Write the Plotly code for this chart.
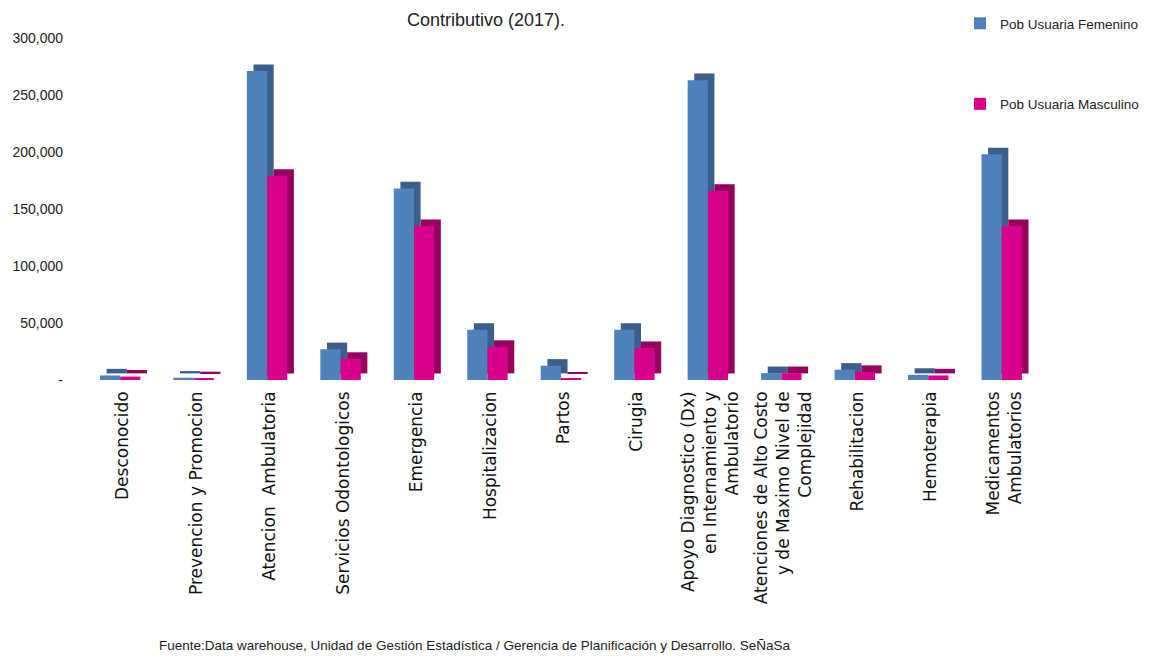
import plotly.graph_objects as go

categories = [
    "Desconocido",
    "Prevencion y Promocion",
    "Atencion  Ambulatoria",
    "Servicios Odontologicos",
    "Emergencia",
    "Hospitalizacion",
    "Partos",
    "Cirugia",
    "Apoyo Diagnostico (Dx)<br>en Internamiento y<br>Ambulatorio",
    "Atenciones de Alto Costo<br>y de Maximo Nivel de<br>Complejidad",
    "Rehabilitacion",
    "Hemoterapia",
    "Medicamentos<br>Ambulatorios",
]
femenino = [4000, 2000, 271000, 27000, 168000, 44000, 12500, 44000, 263000, 6000, 9000, 4500, 198000]
masculino = [3000, 1500, 179000, 18500, 135000, 29000, 1000, 28000, 166000, 6000, 7000, 4000, 135000]

y_ticks = [0, 50000, 100000, 150000, 200000, 250000, 300000]
y_ticktext = ["-", "50,000", "100,000", "150,000", "200,000", "250,000", "300,000"]

BLUE, BLUE_D = "#4F81BD", "#3A5F8C"
MAG, MAG_D = "#D9008C", "#96005F"
W = 0.275
DX = 0.09
DY = 5800
SANS = "Liberation Sans, Arial, sans-serif"

L, R, T, B = 78, 120, 30, 284
PW = 1153 - L - R
PH = 656 - T - B

idx = list(range(len(categories)))
fig = go.Figure()

def add_series(vals, name, front, dark, off, group):
    # depth face (simulated 3D)
    fig.add_trace(go.Bar(
        x=idx, y=vals, base=[DY] * len(vals), width=W, offset=off + DX,
        marker=dict(color=dark, line=dict(width=0)), showlegend=False,
        legendgroup=group, hoverinfo="skip"))
    fig.add_trace(go.Bar(
        x=idx, y=vals, width=W, offset=off, name=name,
        marker=dict(color=front, line=dict(width=0)), legendgroup=group))

add_series(femenino, "Pob Usuaria Femenino", BLUE, BLUE_D, -0.31, "f")
add_series(masculino, "Pob Usuaria Masculino", MAG, MAG_D, -0.035, "m")

fig.update_layout(
    width=1153, height=656,
    margin=dict(l=L, r=R, t=T, b=B, autoexpand=False),
    paper_bgcolor="white", plot_bgcolor="white",
    barmode="overlay",
    showlegend=True,
    legend=dict(x=952 / 1153, xref="container", y=1 + 18 / 656, yref="container",
                xanchor="left", yanchor="top", itemwidth=30,
                font=dict(family=SANS, size=13.5, color="#222"),
                tracegroupgap=60, bgcolor="rgba(0,0,0,0)"),
    xaxis=dict(tickmode="array", tickvals=idx, ticktext=categories,
               range=[-0.5, len(categories) - 0.5], tickangle=-90,
               showgrid=False, showline=False, zeroline=False, ticks="",
               ticklabelstandoff=7, automargin=False,
               tickfont=dict(family="DejaVu Sans", size=17, color="#111")),
    yaxis=dict(range=[0, 300000], tickmode="array", tickvals=y_ticks,
               ticktext=y_ticktext, showgrid=False, showline=False,
               zeroline=False, ticks="", ticklabelstandoff=22, automargin=False,
               tickfont=dict(family=SANS, size=14, color="#222")),
    annotations=[
        dict(text="Contributivo (2017).", x=(478 - L) / PW, xref="paper",
             y=1 + (T - 12) / PH, yref="paper", showarrow=False,
             font=dict(family=SANS, size=18, color="#222"),
             xanchor="center", yanchor="middle"),
        dict(text="Fuente:Data warehouse, Unidad de Gestión Estadística / Gerencia de Planificación y Desarrollo. SeÑaSa",
             x=(467 - L) / PW, xref="paper", y=(656 - B - 637) / PH, yref="paper",
             showarrow=False, font=dict(family=SANS, size=13.5, color="#222"),
             xanchor="center", yanchor="middle"),
    ],
)

fig.write_html("out.html")
